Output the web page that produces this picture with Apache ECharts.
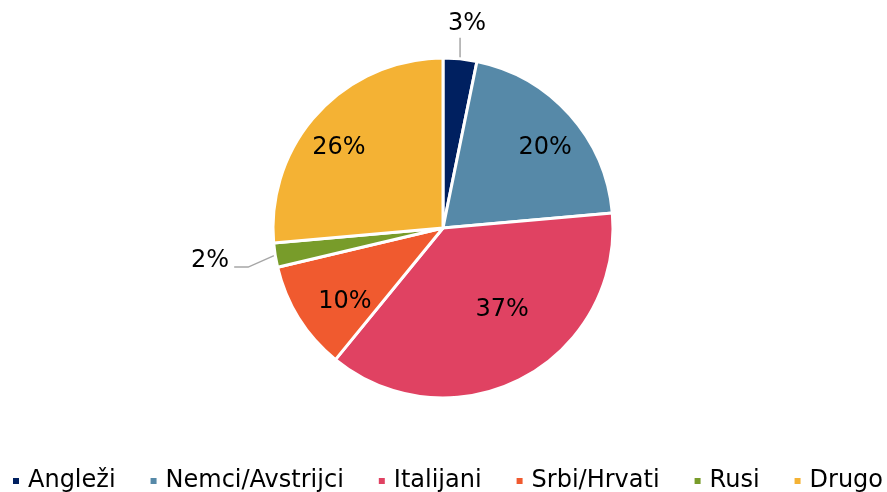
<!DOCTYPE html>
<html>
<head>
<meta charset="utf-8">
<script src="https://cdn.jsdelivr.net/npm/echarts@6/dist/echarts.min.js"></script>
<style>
html,body{margin:0;padding:0;background:#fff;}
#c{width:887px;height:492px;}
</style>
</head>
<body>
<div id="c"></div>
<script>
// Data (percent shares)
const categories = ['Angleži', 'Nemci/Avstrijci', 'Italijani', 'Srbi/Hrvati', 'Rusi', 'Drugo'];
const values = [3.2, 20.4, 37.3, 10.4, 2.3, 26.4];

// Styling
const colors = ['#002060', '#5689A8', '#E04262', '#F05A2F', '#789C2A', '#F4B234'];
const FONT = 'DejaVu Sans, Verdana, sans-serif';
const outsideIdx = [0, 4];           // small slices labelled outside
const insideOffsets = {               // fine tuning of inside labels (best-fit look)
  'Nemci/Avstrijci': [8, 4],
  'Italijani': [0, -30],
  'Srbi/Hrvati': [9, 7],
  'Drugo': [-11, 5]
};

const CX = 443, CY = 228, R = 170;
const fmt = p => Math.round(p.value) + '%';

const mainData = categories.map((name, i) => {
  const outside = outsideIdx.indexOf(i) >= 0;
  return {
    name: name,
    value: values[i],
    itemStyle: { color: colors[i] },
    label: { show: outside },
    labelLine: outside ? { show: true, length: i === 0 ? 20 : 27, length2: i === 0 ? 0 : 15 } : { show: false }
  };
});

const overlayData = categories.map((name, i) => {
  const inside = outsideIdx.indexOf(i) < 0;
  return {
    name: name,
    value: values[i],
    label: { show: inside, offset: insideOffsets[name] || [0, 0] }
  };
});

const chart = echarts.init(document.getElementById('c'), null, { renderer: 'canvas' });
chart.setOption({
  animation: false,
  color: colors,
  legend: {
    data: categories,
    left: 11,
    top: 469,
    width: 1200,
    padding: 0,
    icon: 'rect',
    itemWidth: 8,
    itemHeight: 8,
    itemGap: 33,
    textStyle: { fontFamily: FONT, fontSize: 24, color: '#000', padding: [2, 0, 0, 3] }
  },
  series: [
    {
      type: 'pie',
      center: [CX, CY],
      radius: [0, R],
      startAngle: 90,
      clockwise: true,
      avoidLabelOverlap: false,
      itemStyle: { borderColor: '#fff', borderWidth: 3 },
      label: {
        position: 'outside',
        formatter: fmt,
        fontFamily: FONT,
        fontSize: 24,
        color: '#000',
        distanceToLabelLine: 5
      },
      labelLine: { lineStyle: { color: '#A6A6A6', width: 1.5 } },
      labelLayout: function (params) {
        const pts = params.labelLinePoints;
        if (!pts) return {};
        const s = pts[0];
        if (params.dataIndex === 0) {
          const e = [s[0], s[1] - 21];
          return {
            x: e[0] + 7,
            y: e[1] - 2,
            align: 'center',
            verticalAlign: 'bottom',
            labelLinePoints: [s, e, e]
          };
        }
        if (params.dataIndex === 4) {
          const e1 = [s[0] - 27, s[1] + 12];
          const e2 = [e1[0] - 14, e1[1]];
          return {
            x: e2[0] - 5,
            y: e2[1] - 6,
            align: 'right',
            verticalAlign: 'middle',
            labelLinePoints: [s, e1, e2]
          };
        }
        return {};
      },
      emphasis: { disabled: true },
      data: mainData
    },
    {
      type: 'pie',
      center: [CX, CY],
      radius: [0, R * 1.45],
      startAngle: 90,
      clockwise: true,
      silent: true,
      avoidLabelOverlap: false,
      itemStyle: { color: 'rgba(0,0,0,0)', borderWidth: 0 },
      label: {
        position: 'inside',
        formatter: fmt,
        fontFamily: FONT,
        fontSize: 24,
        color: '#000'
      },
      labelLine: { show: false },
      emphasis: { disabled: true },
      legendHoverLink: false,
      data: overlayData
    }
  ]
});
</script>
</body>
</html>
